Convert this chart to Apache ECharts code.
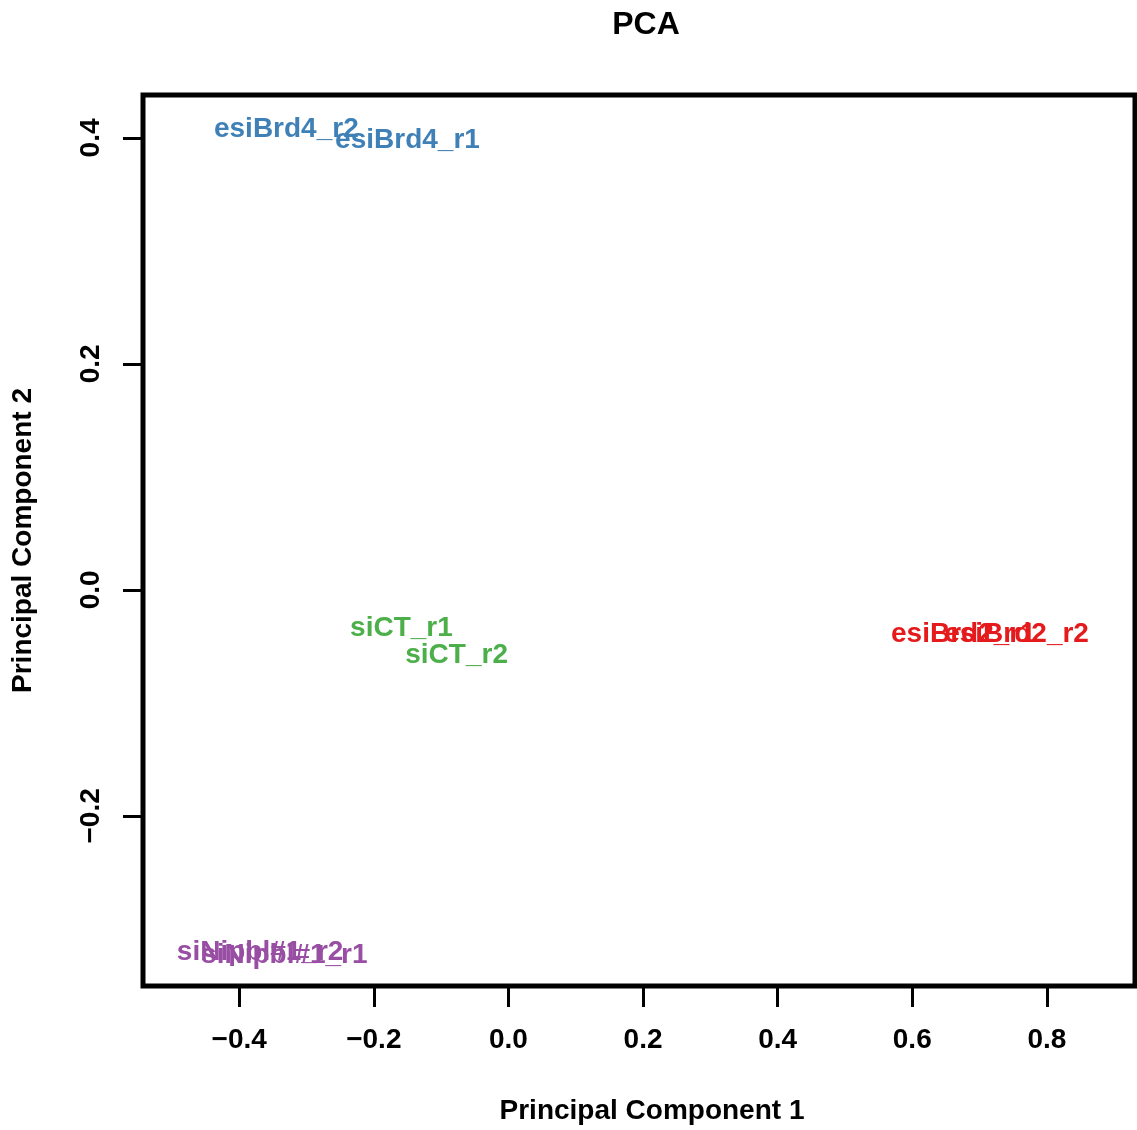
<!DOCTYPE html>
<html>
<head>
<meta charset="utf-8">
<script src="https://cdn.jsdelivr.net/npm/echarts@6/dist/echarts.min.js"></script>
<style>
  html, body { margin: 0; padding: 0; background: #fff; }
  #main { width: 1137px; height: 1130px; }
</style>
</head>
<body>
<div id="main"></div>
<script>
// sample labels and their PCA coordinates
var sampleNames = ['esiBrd4_r2', 'esiBrd4_r1', 'siCT_r1', 'siCT_r2', 'esiBrd2_r1', 'esiBrd2_r2', 'siNipbl#1_r2', 'siNipbl#1_r1'];
var sampleGroup = ['esiBrd4', 'esiBrd4', 'siCT', 'siCT', 'esiBrd2', 'esiBrd2', 'siNipbl', 'siNipbl'];
var pc1 = [-0.330, -0.150, -0.159, -0.077, 0.676, 0.755, -0.369, -0.333];
var pc2 = [0.408, 0.398, -0.034, -0.058, -0.039, -0.039, -0.321, -0.323];

var groups = ['esiBrd4', 'siCT', 'esiBrd2', 'siNipbl'];
var groupColors = ['#3F81B6', '#4DAF4A', '#E41A1C', '#984EA3'];

var xTicks = [-0.4, -0.2, 0.0, 0.2, 0.4, 0.6, 0.8];
var yTicks = [-0.2, 0.0, 0.2, 0.4];

var font = '"Liberation Sans", Arial, Helvetica, sans-serif';

function fmt(v) {
  return v.toFixed(1).replace('-', '\u2212');
}

var series = groups.map(function (g, gi) {
  var data = [];
  for (var i = 0; i < sampleNames.length; i++) {
    if (sampleGroup[i] === g) {
      data.push({ name: sampleNames[i], value: [pc1[i], pc2[i]] });
    }
  }
  return {
    name: g,
    type: 'scatter',
    symbolSize: 0,
    data: data,
    itemStyle: { opacity: 1, color: groupColors[gi] },
    label: {
      show: true,
      position: 'inside',
      formatter: '{b}',
      color: groupColors[gi],
      opacity: 1,
      fontFamily: font,
      fontWeight: 'bold',
      fontSize: 28
    },
    emphasis: { disabled: true }
  };
});

var option = {
  animation: false,
  backgroundColor: '#fff',
  title: {
    text: 'PCA',
    left: 641,
    textAlign: 'center',
    top: 4,
    textStyle: { fontFamily: font, fontWeight: 'bold', fontSize: 32, color: '#000' }
  },
  grid: {
    left: 143, top: 95, right: 2, bottom: 142,
    show: true,
    borderColor: '#000',
    borderWidth: 5,
    backgroundColor: 'transparent'
  },
  xAxis: {
    type: 'value',
    min: -0.543,
    max: 0.931,
    name: 'Principal Component 1',
    nameLocation: 'middle',
    nameGap: 111,
    nameTextStyle: { fontFamily: font, fontWeight: 'bold', fontSize: 28, color: '#000', padding: [0, 0, 0, 26] },
    axisLine: { show: false, onZero: false },
    splitLine: { show: false },
    axisTick: { show: true, customValues: xTicks, length: 21, lineStyle: { color: '#000', width: 3 } },
    axisLabel: {
      customValues: xTicks,
      formatter: fmt,
      margin: 40,
      fontFamily: font, fontWeight: 'bold', fontSize: 28, color: '#000'
    }
  },
  yAxis: {
    type: 'value',
    min: -0.3506,
    max: 0.438,
    name: 'Principal Component 2',
    nameLocation: 'middle',
    nameGap: 106,
    nameTextStyle: { fontFamily: font, fontWeight: 'bold', fontSize: 28, color: '#000' },
    axisLine: { show: false, onZero: false },
    splitLine: { show: false },
    axisTick: { show: true, customValues: yTicks, length: 20, lineStyle: { color: '#000', width: 3 } },
    axisLabel: {
      customValues: yTicks,
      formatter: fmt,
      rotate: 90,
      margin: 38,
      fontFamily: font, fontWeight: 'bold', fontSize: 28, color: '#000'
    }
  },
  series: series
};

var chart = echarts.init(document.getElementById('main'));
chart.setOption(option);
</script>
</body>
</html>
